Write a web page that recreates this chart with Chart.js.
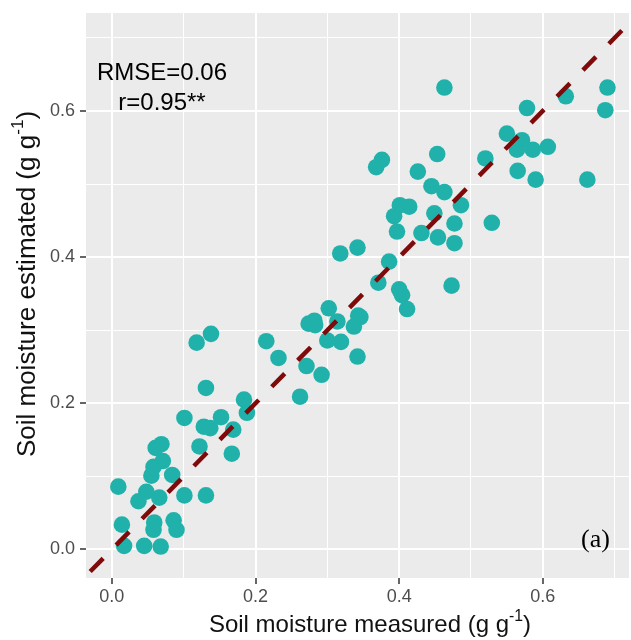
<!DOCTYPE html>
<html lang="en">
<head>
<meta charset="UTF-8">
<title>Soil moisture measured vs estimated</title>
<script src="https://cdn.jsdelivr.net/npm/chart.js"></script>
<style>
  body { margin: 0; background: #ffffff; overflow: hidden; }
  #scatterChart { display: block; }
</style>
</head>
<body>
<canvas id="scatterChart" width="631" height="640"></canvas>
<script>
// values (g g-1)
const measured = [
  0.009, 0.014, 0.017, 0.037, 0.045, 0.068, 0.059, 0.058, 0.066, 0.048,
  0.055, 0.058, 0.061, 0.069, 0.071, 0.084, 0.086, 0.090, 0.101, 0.101,
  0.122, 0.118, 0.138, 0.131, 0.128, 0.137, 0.131, 0.152, 0.167, 0.169,
  0.184, 0.188, 0.215, 0.232, 0.262, 0.271, 0.274, 0.282, 0.292, 0.302,
  0.314, 0.300, 0.319, 0.318, 0.342, 0.337, 0.343, 0.342, 0.368, 0.376,
  0.371, 0.386, 0.400, 0.404, 0.411, 0.393, 0.397, 0.401, 0.414, 0.426,
  0.431, 0.445, 0.449, 0.453, 0.454, 0.463, 0.463, 0.486, 0.477, 0.477,
  0.473, 0.520, 0.529, 0.550, 0.571, 0.564, 0.565, 0.578, 0.586, 0.590,
  0.607, 0.632, 0.662, 0.690, 0.687, 0.283, 0.346
];
const estimated = [
  0.086, 0.034, 0.005, 0.066, 0.005, 0.004, 0.037, 0.027, 0.071, 0.079,
  0.101, 0.113, 0.139, 0.144, 0.121, 0.102, 0.040, 0.027, 0.074, 0.180,
  0.141, 0.283, 0.295, 0.221, 0.168, 0.166, 0.074, 0.181, 0.131, 0.164,
  0.205, 0.187, 0.285, 0.262, 0.209, 0.251, 0.309, 0.313, 0.239, 0.330,
  0.312, 0.286, 0.284, 0.405, 0.413, 0.305, 0.320, 0.264, 0.523, 0.533,
  0.365, 0.394, 0.356, 0.348, 0.329, 0.456, 0.435, 0.471, 0.469, 0.517,
  0.433, 0.497, 0.460, 0.541, 0.427, 0.632, 0.489, 0.471, 0.446, 0.419,
  0.361, 0.535, 0.447, 0.569, 0.560, 0.547, 0.518, 0.604, 0.547, 0.506,
  0.551, 0.620, 0.506, 0.632, 0.601, 0.307, 0.318
];
const xTickValues = [0, 0.1, 0.2, 0.3, 0.4, 0.5, 0.6, 0.7];
const yTickValues = [0, 0.1, 0.2, 0.3, 0.4, 0.5, 0.6, 0.7];
const xLimits = [-0.036, 0.72];
const yLimits = [-0.039, 0.734];
const oneToOne = [-0.036, 0.76];
const statsText = ['RMSE=0.06', 'r=0.95**'];
const panelTag = '(a)';
const xTitle = [{ t: 'Soil moisture measured (g g' }, { t: '-1', sup: true }, { t: ')' }];
const yTitle = [{ t: 'Soil moisture estimated (g g' }, { t: '-1', sup: true }, { t: ')' }];

const SANS = '"Liberation Sans", Arial, sans-serif';
const isMajor = v => Math.round(v * 10) % 2 === 0;

function drawParts(ctx, parts, size) {
  let total = 0;
  parts.forEach(p => {
    ctx.font = (p.sup ? size * 0.66 : size) + 'px ' + SANS;
    p.w = ctx.measureText(p.t).width;
    total += p.w;
  });
  let x = -total / 2;
  parts.forEach(p => {
    ctx.font = (p.sup ? size * 0.66 : size) + 'px ' + SANS;
    ctx.fillText(p.t, x, p.sup ? -size * 0.46 : 0);
    x += p.w;
  });
}

// grey ggplot panel behind the grid
const panelBg = {
  id: 'panelBg',
  beforeDraw(chart) {
    const { ctx, chartArea: a } = chart;
    ctx.save();
    ctx.fillStyle = '#ebebeb';
    ctx.fillRect(a.left, a.top, a.right - a.left, a.bottom - a.top);
    ctx.restore();
  }
};

// axis titles with superscripts + annotations
const labels = {
  id: 'labels',
  afterDraw(chart) {
    const ctx = chart.ctx;
    ctx.save();
    ctx.textAlign = 'left';
    ctx.textBaseline = 'alphabetic';
    ctx.fillStyle = '#111111';

    ctx.save();
    ctx.translate(370, 632);
    drawParts(ctx, xTitle, 24);
    ctx.restore();

    ctx.save();
    ctx.translate(35, 284);
    ctx.rotate(-Math.PI / 2);
    drawParts(ctx, yTitle, 26);
    ctx.restore();

    ctx.textAlign = 'center';
    ctx.fillStyle = '#000000';
    ctx.font = '24px ' + SANS;
    ctx.fillText(statsText[0], 162, 80);
    ctx.fillText(statsText[1], 162, 110);

    ctx.font = '26px "Liberation Serif", "Times New Roman", serif';
    ctx.fillText(panelTag, 595.5, 547);
    ctx.restore();
  }
};

function gridOpts() {
  return {
    color: '#ffffff',
    lineWidth: c => (c.tick && isMajor(c.tick.value)) ? 2 : 1,
    drawTicks: true,
    tickLength: 6,
    tickWidth: 1.5,
    tickColor: c => (c.tick && isMajor(c.tick.value)) ? '#333333' : 'rgba(0,0,0,0)'
  };
}

function tickOpts(pad) {
  return {
    callback: v => isMajor(v) ? v.toFixed(1) : '',
    color: '#4d4d4d',
    font: { family: SANS, size: 18 },
    padding: pad,
    autoSkip: false,
    maxRotation: 0
  };
}

const points = measured.map((m, i) => ({ x: m, y: estimated[i] }));

new Chart(document.getElementById('scatterChart'), {
  type: 'scatter',
  data: {
    datasets: [
      {
        type: 'line',
        data: oneToOne.map(v => ({ x: v, y: v })),
        borderColor: '#7f0a0a',
        borderWidth: 4.5,
        borderDash: [18.5, 18.5],
        borderDashOffset: 31,
        borderCapStyle: 'butt',
        pointRadius: 0,
        fill: false,
        clip: 0,
        order: 0
      },
      {
        data: points,
        backgroundColor: '#20b2aa',
        borderWidth: 0,
        pointRadius: 8.3,
        pointHoverRadius: 8.3,
        order: 1
      }
    ]
  },
  options: {
    responsive: false,
    animation: false,
    events: [],
    layout: { autoPadding: false, padding: { top: 13, right: 2, left: 0, bottom: 0 } },
    plugins: {
      legend: { display: false },
      tooltip: { enabled: false }
    },
    scales: {
      x: {
        type: 'linear',
        position: 'bottom',
        min: xLimits[0],
        max: xLimits[1],
        afterBuildTicks: axis => { axis.ticks = xTickValues.map(v => ({ value: v })); },
        afterFit: axis => { axis.height = 62; axis.paddingLeft = 0; axis.paddingRight = 0; },
        grid: gridOpts(),
        border: { display: false },
        ticks: tickOpts(2)
      },
      y: {
        type: 'linear',
        min: yLimits[0],
        max: yLimits[1],
        afterBuildTicks: axis => { axis.ticks = yTickValues.map(v => ({ value: v })); },
        afterFit: axis => { axis.width = 86; axis.paddingTop = 0; axis.paddingBottom = 0; },
        grid: gridOpts(),
        border: { display: false },
        ticks: tickOpts(5)
      }
    }
  },
  plugins: [panelBg, labels]
});
</script>
</body>
</html>
